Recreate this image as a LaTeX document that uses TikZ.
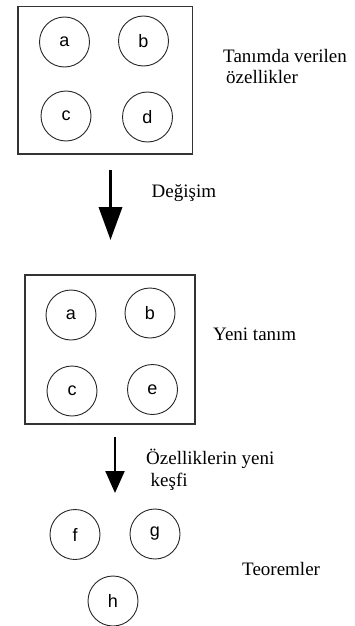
\documentclass[tikz,border=0pt]{standalone}
\usepackage{fontspec}
\setmainfont{Liberation Serif}
\newfontfamily\letterfont{Liberation Sans}
\usetikzlibrary{arrows.meta}

\tikzset{
  frame/.style={draw=black!80, line width=1.4pt, inner sep=0pt, outer sep=0pt},
  prop/.style={draw=black!85, line width=0.9pt, circle, minimum size=50pt,
    inner sep=0pt, font=\letterfont\fontsize{18}{22}\selectfont},
  caption/.style={anchor=base west, inner sep=0pt, text=black,
    font=\fontsize{19}{22}\selectfont},
  bigarrow/.style={line width=3.6pt, -{Triangle[width=23pt,length=33pt]}},
  smallarrow/.style={line width=2.3pt, -{Triangle[width=19pt,length=22pt]}}
}

\begin{document}
\begin{tikzpicture}[x=1pt, y=-1pt]
  \useasboundingbox (0,0) rectangle (354,626);

  % definition box with its properties
  \node[frame, minimum width=174.5pt, minimum height=147.5pt] (box1) at (105.25,80.25) {};
  \node[prop] (a1) at (64.5,42) {a};
  \node[prop] (b1) at (143.5,41) {b};
  \node[prop] (c1) at (66,116) {c};
  \node[prop] (d1) at (147.5,117) {d};
  \node[caption] (t1) at (223,62.5) {Tanımda verilen};
  \node[caption] (t2) at (226,84) {özellikler};

  % change
  \coordinate (s1) at (110.5,170);
  \coordinate (e1) at (110.5,240);
  \draw[bigarrow] (s1) -- (e1);
  \node[caption] (t3) at (151.5,197.5) {Değişim};

  % new definition box
  \node[frame, minimum width=170pt, minimum height=149pt] (box2) at (110,349.5) {};
  \node[prop] (a2) at (71,315) {a};
  \node[prop] (b2) at (150,313) {b};
  \node[prop] (c2) at (72,391) {c};
  \node[prop] (e2) at (152.5,389.5) {e};
  \node[caption] (t4) at (213,340) {Yeni tanım};

  % rediscovery of properties
  \coordinate (s2) at (115,437);
  \coordinate (e2end) at (115,493);
  \draw[smallarrow] (s2) -- (e2end);
  \node[caption] (t5) at (146,464.5) {Özelliklerin yeni};
  \node[caption] (t6) at (150.5,486) {keşfi};

  % theorems
  \node[prop] (f) at (75,534.5) {f};
  \node[prop] (g) at (155,534) {g};
  \node[prop] (h) at (113,601) {h};
  \node[caption] (t7) at (242,575.5) {Teoremler};
\end{tikzpicture}
\end{document}
